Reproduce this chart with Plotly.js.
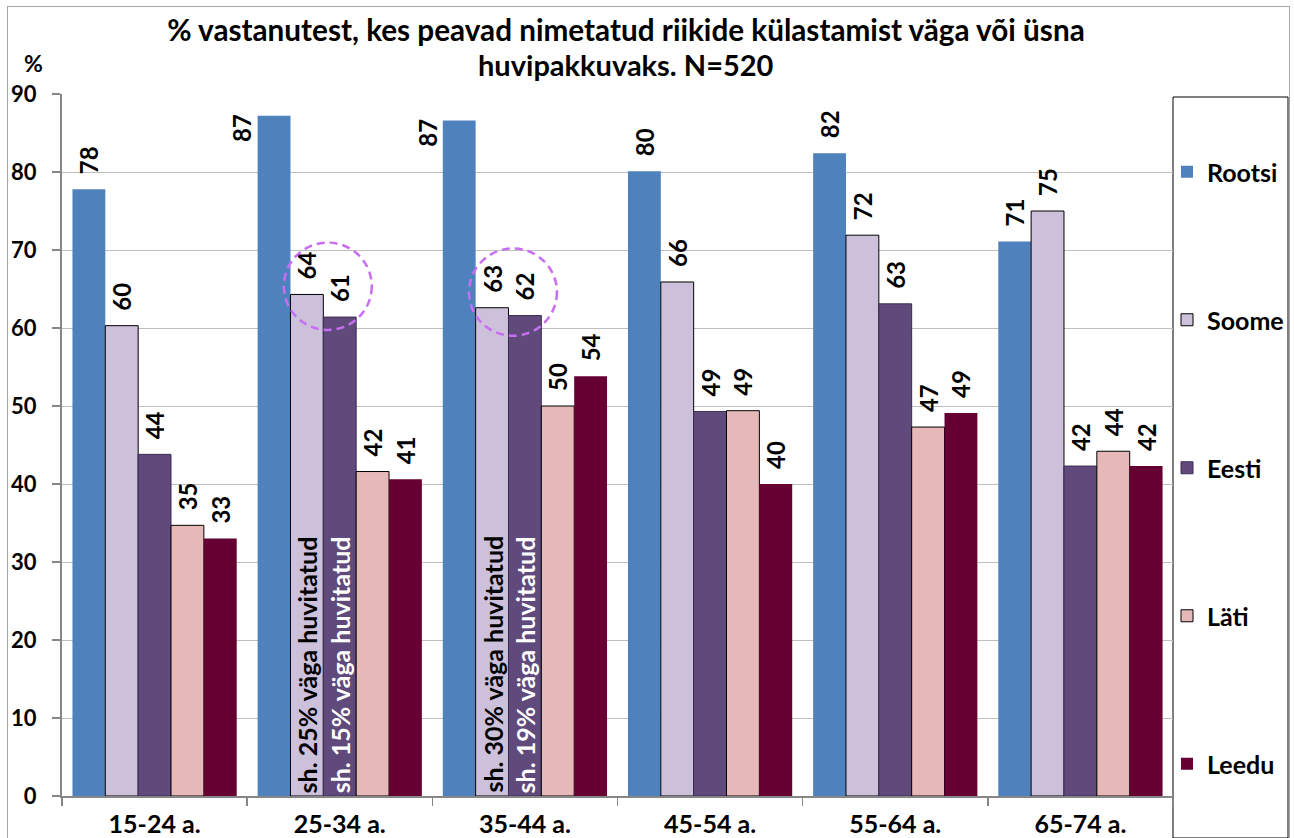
<!DOCTYPE html>
<html>
<head>
<meta charset="utf-8">
<script src="https://cdn.plot.ly/plotly-3.0.1.min.js"></script>
<style>
  html, body { margin: 0; padding: 0; background: #fff; }
  #chart { position: absolute; left: 0; top: 0; width: 1294px; height: 838px; }
  #frame { position: absolute; left: 7px; top: 6px; width: 1283px; height: 845px;
           border: 1.5px solid #A6A6A6; box-sizing: border-box; pointer-events: none; }
</style>
</head>
<body>
<div id="chart"></div>
<div id="frame"></div>
<script>
// ---- data ----
const categories = ['15-24 a.', '25-34 a.', '35-44 a.', '45-54 a.', '55-64 a.', '65-74 a.'];
const seriesNames = ['Rootsi', 'Soome', 'Eesti', 'Läti', 'Leedu'];
const rootsi = [77.8, 87.2, 86.6, 80.1, 82.4, 71.1];
const soome  = [60.3, 64.3, 62.6, 65.9, 71.9, 75.0];
const eesti  = [43.8, 61.4, 61.6, 49.3, 63.1, 42.3];
const lati   = [34.7, 41.6, 50.0, 49.4, 47.3, 44.2];
const leedu  = [33.0, 40.6, 53.8, 40.0, 49.1, 42.3];
const yTicks = [0, 10, 20, 30, 40, 50, 60, 70, 80, 90];
const titleLines = ['% vastanutest, kes peavad nimetatud riikide külastamist väga või üsna', 'huvipakkuvaks. N=520'];
const yUnit = '%';
// notes written inside bars: category index, series index, text
const noteCats = [1, 1, 2, 2];
const noteSeries = [1, 2, 1, 2];
const noteTexts = ['sh. 25% väga huvitatud', 'sh. 15% väga huvitatud', 'sh. 30% väga huvitatud', 'sh. 19% väga huvitatud'];
// highlighted categories (dashed circle round Soome/Eesti labels)
const circleCats = [1, 2];

// ---- styles ----
const FONT = 'Lato, "Liberation Sans", Arial, sans-serif';
const colors = ['#4F81BD', '#CCC0DA', '#604A7B', '#E6B9B8', '#660033'];
const lineColors = ['rgba(0,0,0,0)', '#000000', '#3B2D52', '#000000', 'rgba(0,0,0,0)'];
const lineWidths = [0, 1, 1, 1, 0];
const values = [rootsi, soome, eesti, lati, leedu];
const BARGAP = 0.113;
const barW = (1 - BARGAP) / seriesNames.length;
const barCenter = (ci, si) => ci - (1 - BARGAP) / 2 + barW * (si + 0.5);

// Rootsi labels near the top are put beside the bar instead of above it
const sideLabel = rootsi.map(v => v > 85);

const traces = seriesNames.map((name, si) => ({
  type: 'bar',
  name: name,
  x: categories,
  y: values[si],
  legendgroup: name,
  marker: { color: colors[si], line: { color: lineColors[si], width: lineWidths[si] } },
  texttemplate: '\u2002%{y:.0f}',
  textposition: values[si].map((v, i) => (si === 0 && sideLabel[i]) ? 'none' : 'outside'),
  textangle: -90,
  textfont: { family: FONT, size: 24, color: '#000', weight: 'bold' },
  constraintext: 'none',
  cliponaxis: false,
  hoverinfo: 'x+y+name'
}));

const annotations = [];
// second title line
annotations.push({
  xref: 'paper', yref: 'paper', x: (626 - 62) / 1111, y: 1, yshift: 30,
  xanchor: 'center', yanchor: 'middle', showarrow: false,
  text: titleLines[1], font: { family: FONT, size: 29, color: '#000', weight: 'bold' }
});
// y unit
annotations.push({
  xref: 'paper', yref: 'paper', x: 0, xshift: -29, y: 1, yshift: 31,
  xanchor: 'center', yanchor: 'middle', showarrow: false,
  text: yUnit, font: { family: FONT, size: 23, color: '#000', weight: 'bold' }
});
// side labels for the tall Rootsi bars
rootsi.forEach((v, i) => {
  if (!sideLabel[i]) return;
  annotations.push({
    xref: 'x', yref: 'y', x: barCenter(i, 0), y: v, xshift: -32, yshift: -12,
    xanchor: 'center', yanchor: 'middle', showarrow: false, textangle: -90,
    text: String(Math.round(v)), font: { family: FONT, size: 24, color: '#000', weight: 'bold' }
  });
});
// notes inside bars
noteTexts.forEach((t, k) => {
  const si = noteSeries[k];
  annotations.push({
    xref: 'x', yref: 'y', x: barCenter(noteCats[k], si), y: 0, yshift: 1,
    xanchor: 'center', yanchor: 'bottom', showarrow: false, textangle: -90,
    text: t, font: { family: FONT, size: 25, color: si === 2 ? '#FFFFFF' : '#000000', weight: 'bold' }
  });
});

const shapes = [];
// dashed highlight circles round the Soome/Eesti labels
circleCats.forEach(ci => {
  const yc = (soome[ci] + eesti[ci]) / 2 + 2.5;
  shapes.push({
    type: 'circle', xref: 'x', yref: 'y', layer: 'above',
    x0: ci - 0.302, x1: ci + 0.173, y0: yc - 5.6, y1: yc + 5.6,
    line: { color: '#C86EF2', width: 2.5, dash: '8px,5px' }
  });
});
// legend frame
shapes.push({
  type: 'rect', xref: 'paper', yref: 'paper', layer: 'below',
  x0: 1.0, x1: (1288 - 62) / 1111, y0: (796 - 838) / 702, y1: (796 - 97) / 702,
  line: { color: '#000', width: 1 }, fillcolor: '#FFFFFF'
});

const layout = {
  width: 1294, height: 838,
  margin: { l: 62, r: 121, t: 94, b: 42, pad: 0, autoexpand: false },
  paper_bgcolor: '#FFFFFF', plot_bgcolor: '#FFFFFF',
  barmode: 'group', bargap: BARGAP, bargroupgap: 0,
  font: { family: FONT, color: '#000' },
  title: {
    text: titleLines[0], xref: 'container', yref: 'container',
    x: 626 / 1294, xanchor: 'center', y: 1 - 31 / 838, yanchor: 'middle',
    font: { family: FONT, size: 29.7, color: '#000', weight: 'bold' }
  },
  xaxis: {
    type: 'category', range: [-0.5, categories.length - 0.5],
    showline: true, linecolor: '#868686', linewidth: 2,
    ticks: 'outside', tickson: 'boundaries', ticklen: 8, tickcolor: '#868686', tickwidth: 1.5,
    showgrid: false, ticklabelstandoff: 5,
    tickfont: { family: FONT, size: 25, color: '#000', weight: 'bold' }
  },
  yaxis: {
    range: [0, 90], tickvals: yTicks, ticktext: yTicks.map(String),
    showline: true, linecolor: '#868686', linewidth: 2,
    ticks: 'outside', ticklen: 8, tickcolor: '#868686', tickwidth: 1.5,
    showgrid: true, gridcolor: '#BFBFBF', gridwidth: 1, zeroline: false,
    ticklabelstandoff: 11,
    tickfont: { family: FONT, size: 22, color: '#000', weight: 'bold' }
  },
  showlegend: true,
  legend: {
    x: (1167 - 62) / 1111, xanchor: 'left', y: (796 - 149) / 702, yanchor: 'top',
    maxheight: 800,
    bgcolor: 'rgba(0,0,0,0)', borderwidth: 0, traceorder: 'grouped', tracegroupgap: 112.5,
    font: { family: FONT, size: 25, color: '#000', weight: 'bold' }
  },
  annotations: annotations,
  shapes: shapes
};

Plotly.newPlot('chart', traces, layout, { displayModeBar: false, staticPlot: true });
</script>
</body>
</html>
